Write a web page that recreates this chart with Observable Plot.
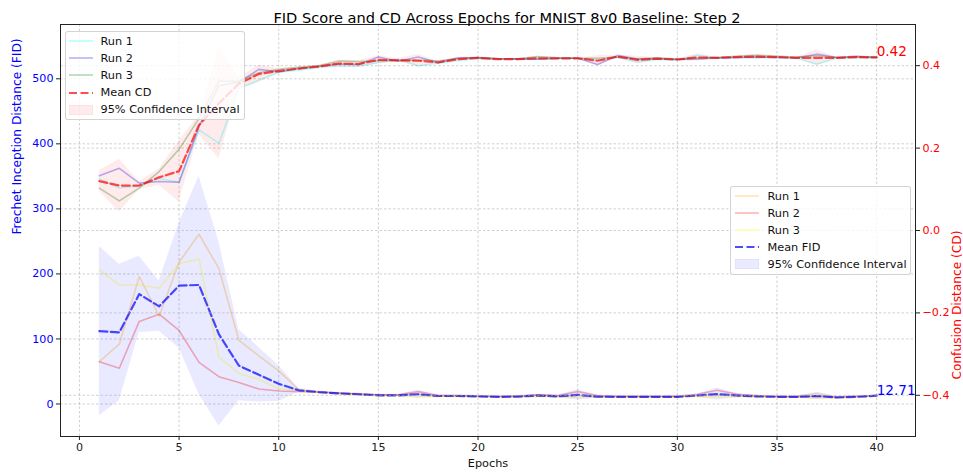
<!DOCTYPE html>
<html>
<head>
<meta charset="utf-8">
<script src="https://cdn.jsdelivr.net/npm/d3@7"></script>
<script src="https://cdn.jsdelivr.net/npm/@observablehq/plot@0.6"></script>
<style>
  html, body { margin: 0; padding: 0; background: #fff; }
  #wrap { position: relative; width: 963px; height: 474px; font-family: "DejaVu Sans", sans-serif; }
  .legend { position: absolute; background: rgba(255,255,255,0.8); border: 1px solid rgba(204,204,204,0.85); border-radius: 3px; box-sizing: border-box; font-size: 11.3px; color: #111; }
  .row { position: absolute; left: 0; height: 17px; display: flex; align-items: center; white-space: nowrap; }
  .row svg { display: block; }
</style>
</head>
<body>
<div id="wrap"></div>
<script>
// ---------------- data ----------------
const epochs = [1,2,3,4,5,6,7,8,9,10,11,12,13,14,15,16,17,18,19,20,21,22,23,24,25,26,27,28,29,30,31,32,33,34,35,36,37,38,39,40];

// FID (left axis)
const fidRun1 = [65,92,196,135,218,261,208,98,74,51,22,19,17,16,14,14,15,13,13,12,11,12,14,12,13,11,11,11,11,11,13,14,13,11,11,12,16,10,11,13];
const fidRun2 = [65,55,127,138,113,64,42,33,23,20,19,18,17,15,14,14,19,13,13,12,12,12,14,13,19,13,12,12,12,12,15,21,15,13,12,11,12,11,12,13];
const fidRun3 = [206,183,183,178,216,223,72,47,38,23,22,18,15,14,12,12,11,11,11,11,10,10,11,10,10,10,10,10,10,10,11,11,11,11,10,10,9,9,10,12];
const fidMean = [112,110,169,150,182,183,107,59,45,31,21,18.3,16.3,15,13.3,13.3,15,12.3,12.3,11.7,11,11.3,13,11.7,14,11.3,11,11,11,11,13,15.3,13,11.7,11,11,12.3,10,11,12.71];
const fidLo   = [-18,5,110,112,86,15,-34,5,3,4,18,17,14.5,13.5,11.5,11.5,9,10.5,10.5,10.5,9.5,9.5,10.5,9.5,6,9,9.5,9.5,9.5,9.5,10.5,6,10,10,9.5,9.5,6.5,8.5,9.5,12];
const fidHi   = [242,215,227,189,278,350,249,114,87,59,24,19.5,18,16.5,15,15,21,14,14,13,12.5,13,15.5,14,22,13.5,12.5,12.5,12.5,12.5,15.5,24.5,16,13.5,12.5,12.5,18,11.5,12.5,13.5];

// CD (right axis)
const cdRun1 = [0.125,0.103,0.109,0.126,0.117,0.244,0.212,0.345,0.365,0.384,0.389,0.395,0.400,0.399,0.408,0.416,0.400,0.406,0.412,0.417,0.415,0.416,0.415,0.417,0.418,0.414,0.420,0.409,0.415,0.414,0.425,0.419,0.419,0.419,0.420,0.418,0.404,0.418,0.419,0.419];
const cdRun2 = [0.133,0.151,0.115,0.119,0.117,0.252,0.352,0.360,0.391,0.385,0.393,0.398,0.404,0.403,0.421,0.411,0.421,0.407,0.419,0.419,0.417,0.416,0.416,0.418,0.418,0.403,0.425,0.416,0.417,0.415,0.416,0.419,0.420,0.421,0.420,0.419,0.428,0.420,0.423,0.420];
const cdRun3 = [0.103,0.072,0.103,0.143,0.197,0.272,0.363,0.362,0.383,0.391,0.396,0.400,0.411,0.410,0.412,0.413,0.414,0.412,0.417,0.420,0.417,0.417,0.422,0.419,0.418,0.418,0.421,0.417,0.419,0.416,0.418,0.420,0.423,0.425,0.423,0.421,0.424,0.420,0.421,0.421];
const cdMean = [0.120,0.109,0.109,0.129,0.144,0.256,0.309,0.356,0.380,0.387,0.393,0.398,0.405,0.404,0.414,0.413,0.412,0.408,0.416,0.419,0.416,0.416,0.418,0.418,0.418,0.412,0.422,0.414,0.417,0.415,0.420,0.419,0.421,0.422,0.421,0.419,0.419,0.419,0.421,0.420];
const cdLo   = [0.095,0.045,0.099,0.109,0.070,0.233,0.174,0.341,0.359,0.381,0.389,0.395,0.396,0.396,0.404,0.409,0.396,0.406,0.411,0.416,0.414,0.415,0.413,0.416,0.417,0.400,0.418,0.405,0.414,0.414,0.411,0.418,0.417,0.416,0.418,0.417,0.400,0.417,0.417,0.418];
const cdHi   = [0.145,0.173,0.119,0.149,0.218,0.279,0.444,0.371,0.401,0.393,0.397,0.401,0.414,0.412,0.424,0.417,0.428,0.410,0.421,0.422,0.418,0.417,0.423,0.420,0.419,0.424,0.426,0.423,0.420,0.416,0.429,0.420,0.425,0.428,0.424,0.421,0.438,0.421,0.425,0.422];

// ticks & labels
const xTicks = [0,5,10,15,20,25,30,35,40];
const fidTicks = [0,100,200,300,400,500];
const cdTicks = [-0.4,-0.2,0.0,0.2,0.4];
const titleText = "FID Score and CD Across Epochs for MNIST 8v0 Baseline: Step 2";
const xLabel = "Epochs";
const fidLabel = "Frechet Inception Distance (FID)";
const cdLabel = "Confusion Distance (CD)";
const cdLegendLabels = ["Run 1","Run 2","Run 3","Mean CD","95% Confidence Interval"];
const fidLegendLabels = ["Run 1","Run 2","Run 3","Mean FID","95% Confidence Interval"];

// ---------------- styling ----------------
const cdRunColors = ["cyan","blue","green"];
const fidRunColors = ["orange","red","yellow"];
const fidDomain = [-50, 583.5];
const cdDomain = [-0.5, 0.5];
const toF = d3.scaleLinear().domain(cdDomain).range(fidDomain); // twin axis map CD -> FID units
const fmtCd = d3.format(".1f");

const runW = 1.6, meanW = 2.2, dash = "8,3.5";
const gridStyle = {stroke: "#b0b0b0", strokeOpacity: 0.75, strokeDasharray: "2.5,2", strokeWidth: 0.8};

const fidRuns = [fidRun1, fidRun2, fidRun3];
const cdRuns = [cdRun1, cdRun2, cdRun3];

const marks = [
  Plot.gridX({ticks: xTicks, ...gridStyle}),
  Plot.gridY({ticks: fidTicks, ...gridStyle}),
  // FID axis content
  ...fidRuns.map((r, k) => Plot.line(epochs, {x: d => d, y: (d, i) => r[i], stroke: fidRunColors[k], strokeOpacity: 0.3, strokeWidth: runW})),
  Plot.line(epochs, {x: d => d, y: (d, i) => fidMean[i], stroke: "blue", strokeOpacity: 0.7, strokeWidth: meanW, strokeDasharray: dash}),
  Plot.areaY(epochs, {x: d => d, y1: (d, i) => fidLo[i], y2: (d, i) => fidHi[i], fill: "blue", fillOpacity: 0.085}),
  // CD twin-axis grid and content
  Plot.gridY({ticks: cdTicks.map(toF), ...gridStyle}),
  ...cdRuns.map((r, k) => Plot.line(epochs, {x: d => d, y: (d, i) => toF(r[i]), stroke: cdRunColors[k], strokeOpacity: 0.3, strokeWidth: runW})),
  Plot.line(epochs, {x: d => d, y: (d, i) => toF(cdMean[i]), stroke: "red", strokeOpacity: 0.7, strokeWidth: meanW, strokeDasharray: dash}),
  Plot.areaY(epochs, {x: d => d, y1: (d, i) => toF(cdLo[i]), y2: (d, i) => toF(cdHi[i]), fill: "red", fillOpacity: 0.08}),
  // annotations of final means
  Plot.text([epochs.length - 1], {x: i => epochs[i], y: i => fidMean[i], text: i => d3.format(".2f")(fidMean[i]), fill: "blue", fontSize: 13.6, textAnchor: "start", lineAnchor: "bottom", dy: -1}),
  Plot.text([epochs.length - 1], {x: i => epochs[i], y: i => toF(cdMean[i]), text: i => d3.format(".2f")(cdMean[i]), fill: "red", fontSize: 13.6, textAnchor: "start", lineAnchor: "bottom", dy: -1}),
  // axes
  Plot.frame({stroke: "#222", strokeWidth: 1}),
  Plot.axisX({ticks: xTicks, tickSize: 4, tickPadding: 3, stroke: "#222", fill: "#222", label: null, tickFormat: d3.format("d")}),
  Plot.axisY({anchor: "left", ticks: fidTicks, tickSize: 4, tickPadding: 3, stroke: "#222", fill: "blue", label: null, tickFormat: d3.format("d")}),
  Plot.axisY({anchor: "right", ticks: cdTicks.map(toF), tickSize: 4, tickPadding: 3, stroke: "#222", fill: "red", label: null, tickFormat: v => fmtCd(toF.invert(v))}),
  // axis labels and title
  Plot.text([xLabel], {text: d => d, frameAnchor: "bottom", dy: 30, fontSize: 11.3, fill: "#111"}),
  Plot.text([fidLabel], {text: d => d, frameAnchor: "left", dx: -43, dy: 4, rotate: -90, fontSize: 12.2, fill: "blue"}),
  Plot.text([cdLabel], {text: d => d, frameAnchor: "right", dx: 42, rotate: -90, fontSize: 12.2, fill: "red"}),
  Plot.text([titleText], {text: d => d, frameAnchor: "top", dy: -12, dx: 19, fontSize: 14.6, fill: "#000"})
];

const chart = Plot.plot({
  width: 963,
  height: 474,
  marginLeft: 60,
  marginRight: 48,
  marginTop: 24,
  marginBottom: 38,
  x: {domain: [-0.95, 41.95], axis: null},
  y: {domain: fidDomain, axis: null},
  style: {fontFamily: "DejaVu Sans", fontSize: "11.1px", background: "#fff", overflow: "visible"},
  marks
});
const wrap = document.getElementById("wrap");
wrap.appendChild(chart);

// ---------------- legends (HTML overlays) ----------------
function legend(box, labels, lineColors, meanColor, bandColor) {
  const el = document.createElement("div");
  el.className = "legend";
  Object.assign(el.style, {left: box.left + "px", top: box.top + "px", width: box.width + "px", height: box.height + "px"});
  labels.forEach((lab, i) => {
    const row = document.createElement("div");
    row.className = "row";
    row.style.top = (box.first + i * box.step - 8.5) + "px";
    let sw;
    if (i < 3) sw = `<line x1="0" y1="5" x2="24" y2="5" stroke="${lineColors[i]}" stroke-opacity="0.3" stroke-width="${runW}"/>`;
    else if (i === 3) sw = `<line x1="0" y1="5" x2="24" y2="5" stroke="${meanColor}" stroke-opacity="0.7" stroke-width="${meanW}" stroke-dasharray="${dash}"/>`;
    else sw = `<rect x="0" y="0" width="24" height="10" fill="${bandColor}" fill-opacity="0.08" stroke="${bandColor}" stroke-opacity="0.08"/>`;
    row.innerHTML = `<span style="display:inline-block;width:${box.hx}px"></span><svg width="24" height="10">${sw}</svg><span style="display:inline-block;width:${box.tx}px"></span><span>${lab}</span>`;
    el.appendChild(row);
  });
  wrap.appendChild(el);
}
legend({left: 64.5, top: 30.5, width: 180, height: 89, first: 9.5, step: 17.2, hx: 3, tx: 8}, cdLegendLabels, cdRunColors, "red", "red");
legend({left: 730, top: 186, width: 181, height: 89, first: 9, step: 17, hx: 3.5, tx: 9}, fidLegendLabels, fidRunColors, "blue", "blue");
</script>
</body>
</html>
